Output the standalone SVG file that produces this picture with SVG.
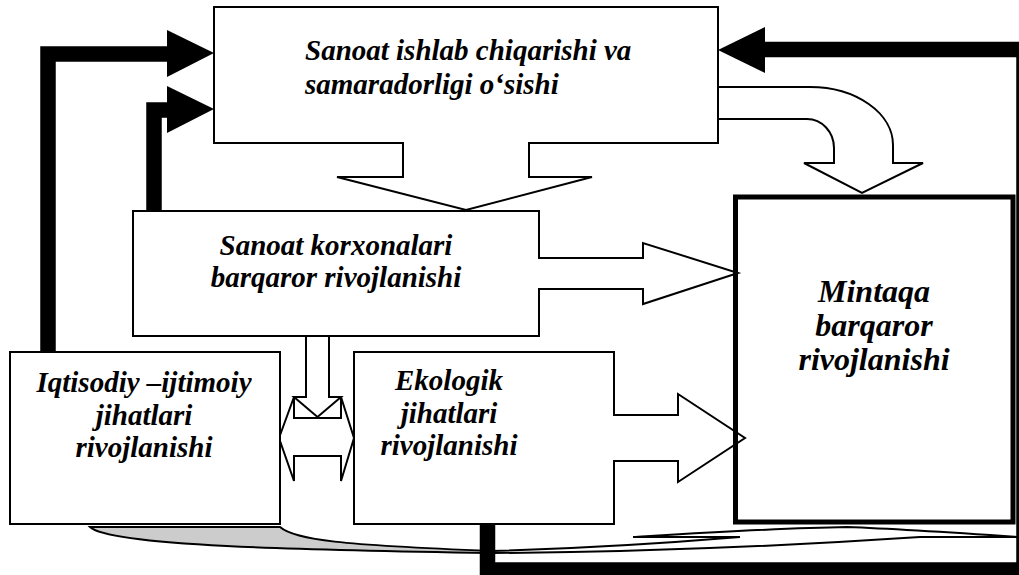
<svg xmlns="http://www.w3.org/2000/svg" width="1019" height="575" viewBox="0 0 1019 575">
<style>
.box{fill:#fff;stroke:#000;stroke-width:2}
.arr{fill:#fff;stroke:#000;stroke-width:2;stroke-linejoin:miter}
.thick{fill:none;stroke:#000;stroke-width:15.5;stroke-linejoin:miter}
.head{fill:#000;stroke:none}
.ln{fill:none;stroke:#000;stroke-width:2}
text{font-family:"Liberation Serif","DejaVu Serif",serif;font-weight:bold;font-style:italic;fill:#000}
.t29{font-size:29px}
.t32{font-size:32px}
</style>
<rect width="1019" height="575" fill="#fff"/>
<g id="connectors">
  <!-- curved flattened arrow at the bottom -->
  <path d="M 90 527 L 280 527 C 295 540 340 545 492 551 L 492 553 C 300 550 110 546 90 527 Z" fill="#ccc" stroke="#000" stroke-width="2"/>
  <path class="ln" d="M 492 553 C 650 552 800 545 920 537 L 1019 537"/>
  <path class="ln" d="M 492 551 C 600 548 680 542 740 537"/>
  <path class="ln" stroke-width="3" d="M 740 537 L 633 537"/>
  <path class="ln" d="M 633 537 C 700 533 780 528 847 527 C 900 529 960 533 1019 537"/>
  <!-- feedback from Iqtisodiy to top box -->
  <path class="thick" d="M 48 352 V 54 H 170"/>
  <polygon class="head" points="167,30 214,53 167,77"/>
  <!-- feedback from Sanoat korxonalari to top box -->
  <path class="thick" d="M 154 211 V 110 H 170"/>
  <polygon class="head" points="167,86 214,109 167,133"/>
  <!-- feedback from Ekologik around to top box -->
  <path class="thick" d="M 487.5 524 V 570 H 1024 V 49.5 H 762"/>
  <polygon class="head" points="718,50 765,27 765,73"/>
  <!-- curved arrow top box -> Mintaqa -->
  <path class="arr" d="M 718 87 H 810 A 83 58 0 0 1 893 145 V 163 H 923 L 862 193 L 804 163 H 834 V 148 A 27 29 0 0 0 807 119 H 718 Z"/>
  <!-- double arrow between Iqtisodiy and Ekologik -->
  <polygon class="arr" points="279,438 294,397 294,418 341,418 341,397 354,438 341,481 341,456 294,456 294,481"/>
  <!-- down arrow from Sanoat korxonalari -->
  <path class="arr" d="M 306 336 V 397 H 294 L 317.5 417 L 341 397 H 329 V 336"/>
</g>
<g id="node-top">
  <rect class="box" x="214" y="7" width="504" height="136"/>
  <path class="arr" d="M 403 142 V 177 H 337 L 466 210 L 592 177 H 529 V 142"/>
  <text class="t29" x="305" y="60">Sanoat ishlab chiqarishi va</text>
  <text class="t29" x="305" y="94">samaradorligi o‘sishi</text>
</g>
<g id="node-korxona">
  <rect class="box" x="133" y="211" width="406" height="125"/>
  <path class="arr" d="M 538 258 H 643 V 243 L 738 273 L 643 304 V 289 H 538"/>
  <text class="t29" x="336" y="255" text-anchor="middle">Sanoat korxonalari</text>
  <text class="t29" x="336" y="287" text-anchor="middle">barqaror rivojlanishi</text>
</g>
<g id="node-iqtisodiy">
  <rect class="box" x="10" y="352" width="270" height="172" stroke-width="3"/>
  <text class="t29" x="144" y="392" text-anchor="middle">Iqtisodiy –ijtimoiy</text>
  <text class="t29" x="144" y="425" text-anchor="middle">jihatlari</text>
  <text class="t29" x="144" y="457" text-anchor="middle">rivojlanishi</text>
</g>
<g id="node-ekologik">
  <rect class="box" x="354" y="352" width="260" height="172"/>
  <path class="arr" d="M 613 415 H 678 V 394 L 745 438 L 678 482 V 461 H 613"/>
  <text class="t29" x="449" y="390" text-anchor="middle">Ekologik</text>
  <text class="t29" x="449" y="423" text-anchor="middle">jihatlari</text>
  <text class="t29" x="449" y="455" text-anchor="middle">rivojlanishi</text>
</g>
<g id="node-mintaqa">
  <rect x="735.5" y="197" width="277.5" height="325" fill="none" stroke="#000" stroke-width="5"/>
  <text class="t32" x="874" y="302" text-anchor="middle">Mintaqa</text>
  <text class="t32" x="874" y="336" text-anchor="middle">barqaror</text>
  <text class="t32" x="874" y="370" text-anchor="middle">rivojlanishi</text>
</g>
</svg>
